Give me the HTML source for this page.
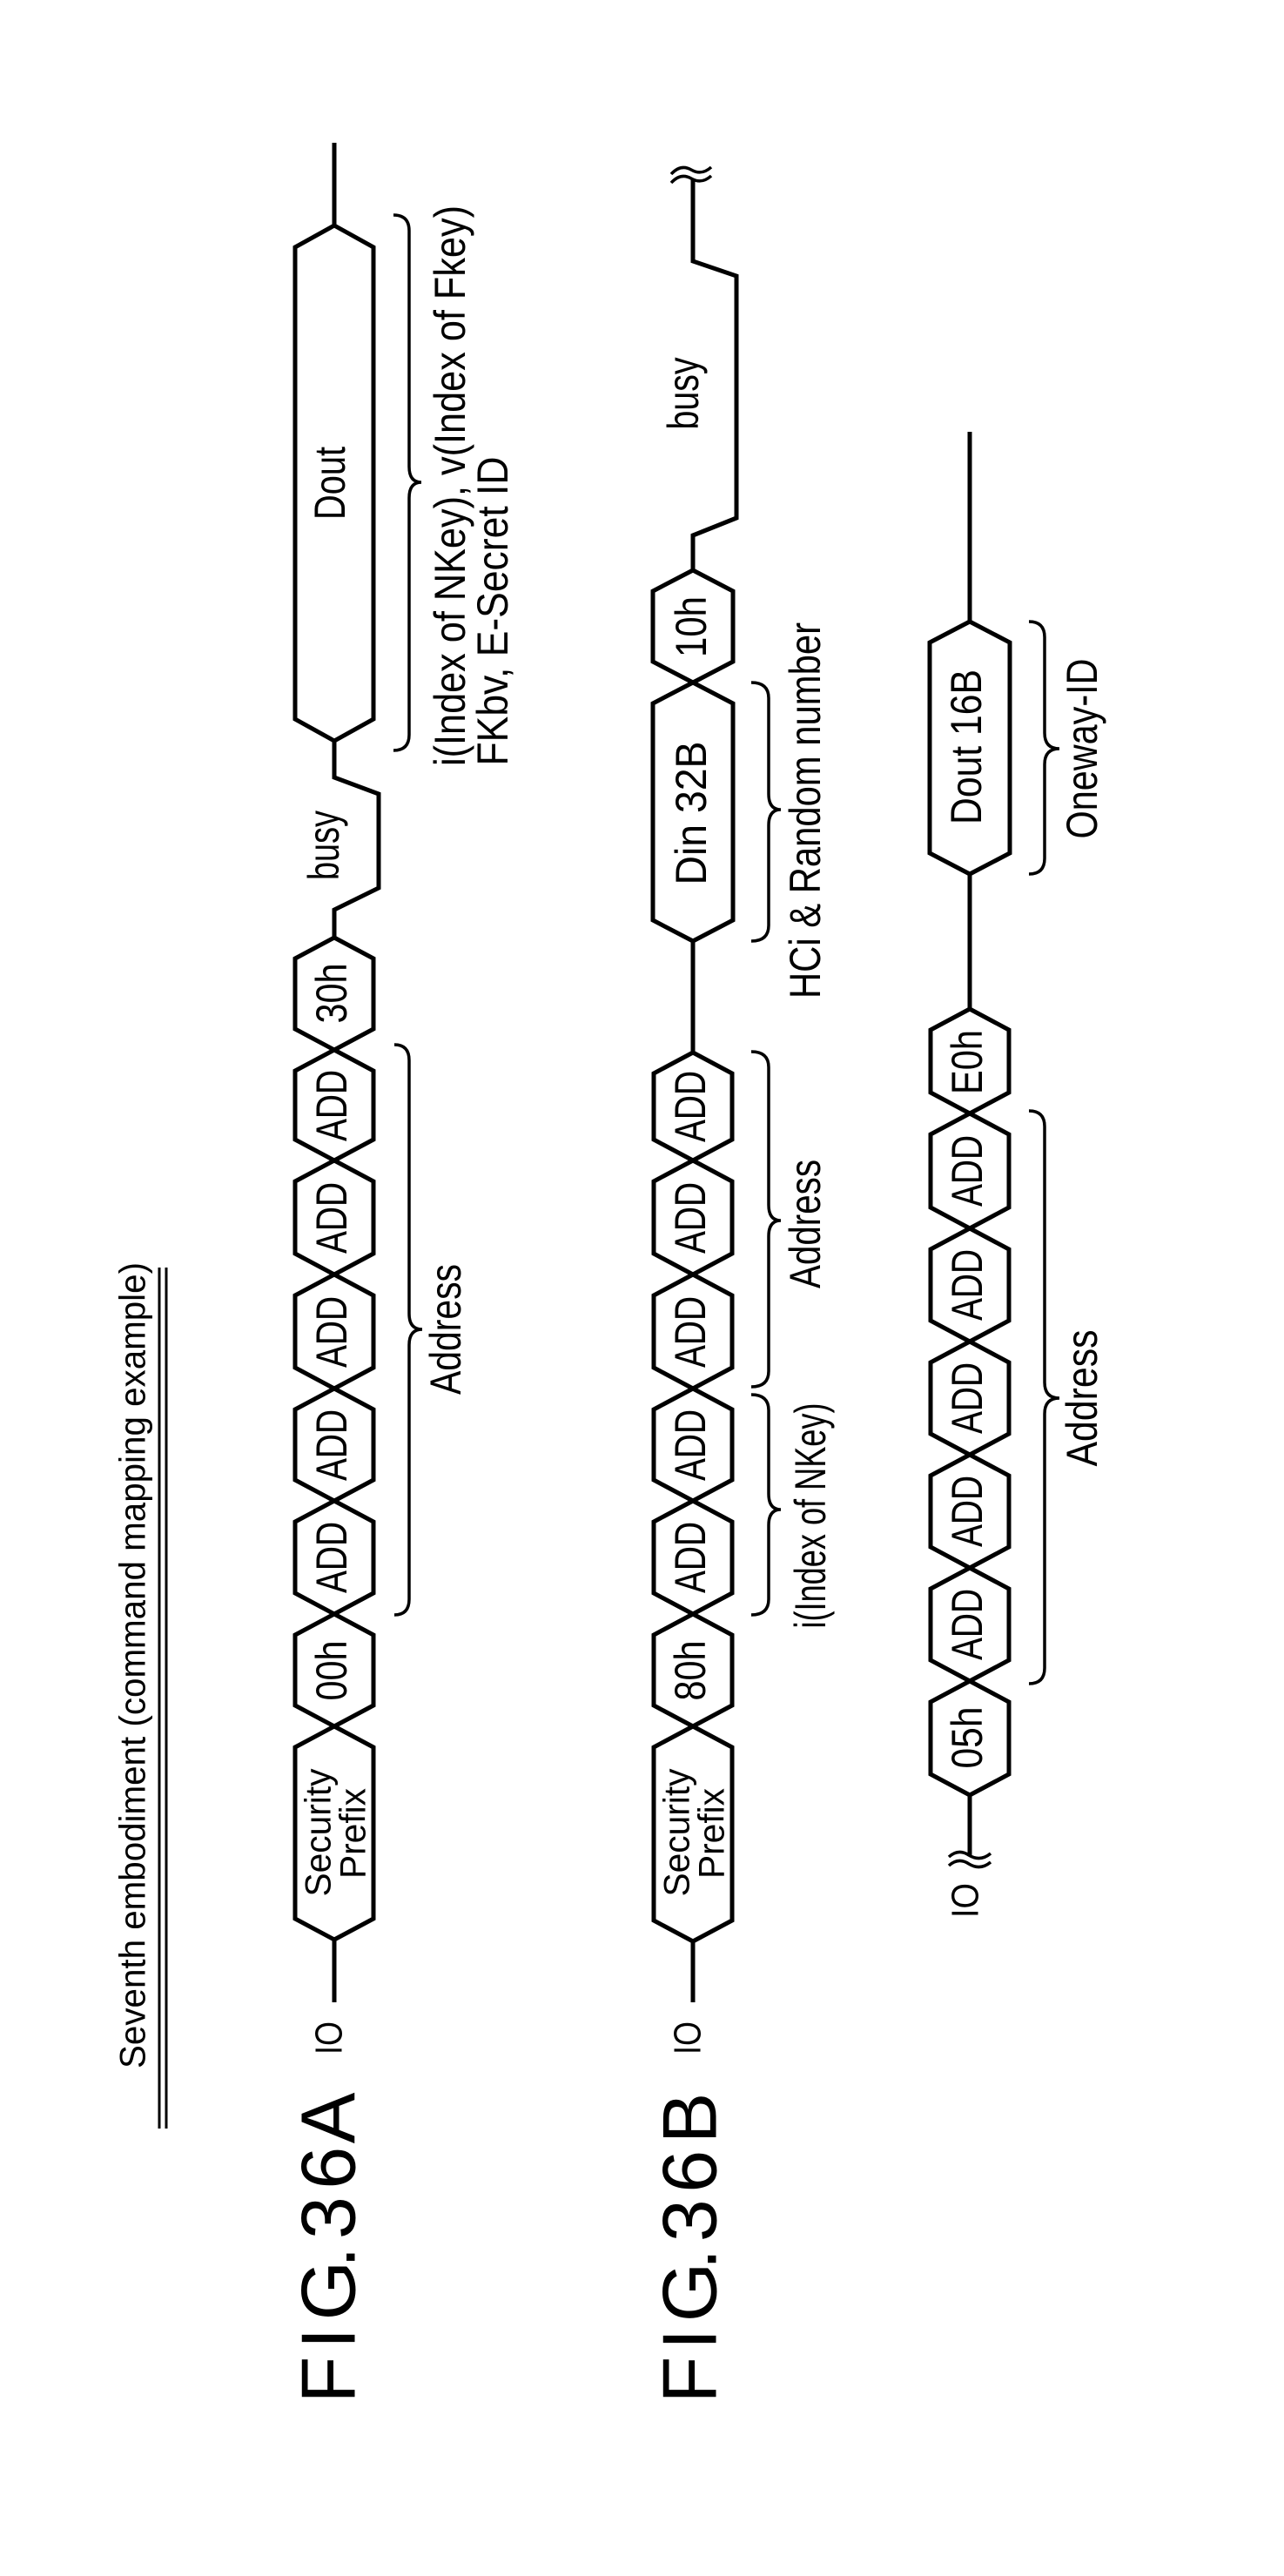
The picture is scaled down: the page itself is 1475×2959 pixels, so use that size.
<!DOCTYPE html>
<html><head><meta charset="utf-8">
<style>
html,body{margin:0;padding:0;background:#fff;}
svg{display:block;}
text{font-family:"Liberation Sans",sans-serif;fill:#000;}
</style></head>
<body>
<svg xmlns="http://www.w3.org/2000/svg" width="1475" height="2959" viewBox="0 0 1475 2959">
<g fill="none" stroke="#000" stroke-width="5" stroke-linejoin="miter">
<!-- ROW A (cx=384) -->
<polyline points="384,164 384,259"/>
<polygon points="384,259 429,284 429,826 384,851 339,826 339,284"/>
<polyline points="384,851 384,893 435,912 435,1020 384,1045 384,1077"/>
<polygon points="384,1077 429,1101 429,1182 384,1206 339,1182 339,1101"/>
<polygon points="384,1206 429,1230 429,1309 384,1333 339,1309 339,1230"/>
<polygon points="384,1333 429,1357 429,1440 384,1464 339,1440 339,1357"/>
<polygon points="384,1464 429,1488 429,1571 384,1595 339,1571 339,1488"/>
<polygon points="384,1595 429,1619 429,1700 384,1724 339,1700 339,1619"/>
<polygon points="384,1724 429,1748 429,1830 384,1854 339,1830 339,1748"/>
<polygon points="384,1854 429,1878 429,1959 384,1983 339,1959 339,1878"/>
<polygon points="384,1983 429,2007 429,2204 384,2228 339,2204 339,2007"/>
<polyline points="384,2228 384,2300"/>
<!-- braces A -->
<path d="M452,247 Q470,247 470,265 L470,536 Q470,554 484,554 Q470,554 470,572 L470,844 Q470,862 452,862" stroke-width="3.5"/>
<path d="M453,1200 Q470,1200 470,1218 L470,1509 Q470,1527 485,1527 Q470,1527 470,1545 L470,1837 Q470,1855 453,1855" stroke-width="3.5"/>

<!-- ROW B (cx=796) -->
<polyline points="796,205 796,300 846,317 846,595 796,615 796,655"/>
<polygon points="796,655 842,679 842,760 796,784 750,760 750,679"/>
<polygon points="796,784 842,808 842,1057 796,1081 750,1057 750,808"/>
<polyline points="796,1081 796,1209"/>
<polygon points="796,1209 841,1233 841,1309 796,1333 751,1309 751,1233"/>
<polygon points="796,1333 841,1357 841,1440 796,1464 751,1440 751,1357"/>
<polygon points="796,1464 841,1488 841,1571 796,1595 751,1571 751,1488"/>
<polygon points="796,1595 841,1619 841,1700 796,1724 751,1700 751,1619"/>
<polygon points="796,1724 841,1748 841,1830 796,1854 751,1830 751,1748"/>
<polygon points="796,1854 841,1878 841,1959 796,1983 751,1959 751,1878"/>
<polygon points="796,1983 841,2007 841,2206 796,2230 751,2206 751,2007"/>
<polyline points="796,2230 796,2300"/>
<path d="M771,200 Q782,188 794,195 Q806,202 817,192" stroke-width="3.5"/>
<path d="M771,210 Q782,198 794,205 Q806,212 817,202" stroke-width="3.5"/>
<!-- braces B -->
<path d="M863,784 Q883,784 883,802 L883,912 Q883,930 897,930 Q883,930 883,948 L883,1063 Q883,1081 863,1081" stroke-width="3.5"/>
<path d="M863,1208 Q883,1208 883,1226 L883,1384 Q883,1402 897,1402 Q883,1402 883,1420 L883,1575 Q883,1593 863,1593" stroke-width="3.5"/>
<path d="M863,1602 Q883,1602 883,1620 L883,1716 Q883,1734 897,1734 Q883,1734 883,1752 L883,1837 Q883,1855 863,1855" stroke-width="3.5"/>

<!-- ROW C (cx=1114) -->
<polyline points="1114,496 1114,714"/>
<polygon points="1114,714 1160,738 1160,980 1114,1004 1068,980 1068,738"/>
<polyline points="1114,1004 1114,1159"/>
<polygon points="1114,1159 1159,1183 1159,1255 1114,1279 1069,1255 1069,1183"/>
<polygon points="1114,1279 1159,1303 1159,1387 1114,1411 1069,1387 1069,1303"/>
<polygon points="1114,1411 1159,1435 1159,1517 1114,1541 1069,1517 1069,1435"/>
<polygon points="1114,1541 1159,1565 1159,1647 1114,1671 1069,1647 1069,1565"/>
<polygon points="1114,1671 1159,1695 1159,1777 1114,1801 1069,1777 1069,1695"/>
<polygon points="1114,1801 1159,1825 1159,1907 1114,1931 1069,1907 1069,1825"/>
<polygon points="1114,1931 1159,1955 1159,2038 1114,2062 1069,2038 1069,1955"/>
<polyline points="1114,2062 1114,2132"/>
<path d="M1090,2133 Q1101,2123 1113,2131 Q1126,2139 1138,2129" stroke-width="3.5"/>
<path d="M1090,2143 Q1101,2133 1113,2141 Q1126,2149 1138,2139" stroke-width="3.5"/>
<!-- braces C -->
<path d="M1182,714 Q1200,714 1200,732 L1200,842 Q1200,860 1217,860 Q1200,860 1200,878 L1200,986 Q1200,1004 1182,1004" stroke-width="3.5"/>
<path d="M1182,1276 Q1200,1276 1200,1294 L1200,1588 Q1200,1606 1217,1606 Q1200,1606 1200,1624 L1200,1916 Q1200,1934 1182,1934" stroke-width="3.5"/>

<!-- title underline -->
<line x1="183" y1="1456" x2="183" y2="2445" stroke-width="3"/>
<line x1="191" y1="1456" x2="191" y2="2445" stroke-width="3"/>
</g>

<g font-size="50" text-anchor="middle" dominant-baseline="central">
<!-- title & figure labels -->
<text transform="translate(152,1913) rotate(-90)" font-size="42" textLength="926" lengthAdjust="spacingAndGlyphs">Seventh embodiment (command mapping example)</text>
<text transform="translate(377,2582) rotate(-90)" font-size="88" textLength="357" lengthAdjust="spacing">F I G. 3 6 A</text>
<text transform="translate(792,2582) rotate(-90)" font-size="88" textLength="357" lengthAdjust="spacing">F I G. 3 6 B</text>

<!-- row A labels -->
<text transform="translate(378,2341) rotate(-90)" font-size="44" textLength="38" lengthAdjust="spacingAndGlyphs">IO</text>
<text transform="translate(365,2105) rotate(-90)" font-size="42" textLength="147" lengthAdjust="spacingAndGlyphs">Security</text>
<text transform="translate(405,2106) rotate(-90)" font-size="42" textLength="104" lengthAdjust="spacingAndGlyphs">Prefix</text>
<text transform="translate(381,1919) rotate(-90)" textLength="69" lengthAdjust="spacingAndGlyphs">00h</text>
<text transform="translate(381,1789) rotate(-90)" textLength="82" lengthAdjust="spacingAndGlyphs">ADD</text>
<text transform="translate(381,1660) rotate(-90)" textLength="82" lengthAdjust="spacingAndGlyphs">ADD</text>
<text transform="translate(381,1530) rotate(-90)" textLength="82" lengthAdjust="spacingAndGlyphs">ADD</text>
<text transform="translate(381,1399) rotate(-90)" textLength="82" lengthAdjust="spacingAndGlyphs">ADD</text>
<text transform="translate(381,1270) rotate(-90)" textLength="82" lengthAdjust="spacingAndGlyphs">ADD</text>
<text transform="translate(381,1141) rotate(-90)" textLength="69" lengthAdjust="spacingAndGlyphs">30h</text>
<text transform="translate(372,971) rotate(-90)" textLength="80" lengthAdjust="spacingAndGlyphs">busy</text>
<text transform="translate(379,555) rotate(-90)" textLength="84" lengthAdjust="spacingAndGlyphs">Dout</text>
<text transform="translate(512,1527) rotate(-90)" textLength="150" lengthAdjust="spacingAndGlyphs">Address</text>
<text transform="translate(517,558) rotate(-90)" textLength="644" lengthAdjust="spacingAndGlyphs">i(Index of NKey),  v(Index of Fkey)</text>
<text transform="translate(566,702) rotate(-90)" textLength="355" lengthAdjust="spacingAndGlyphs">FKbv, E-Secret ID</text>

<!-- row B labels -->
<text transform="translate(790,2341) rotate(-90)" font-size="44" textLength="38" lengthAdjust="spacingAndGlyphs">IO</text>
<text transform="translate(777,2105) rotate(-90)" font-size="42" textLength="147" lengthAdjust="spacingAndGlyphs">Security</text>
<text transform="translate(817,2106) rotate(-90)" font-size="42" textLength="104" lengthAdjust="spacingAndGlyphs">Prefix</text>
<text transform="translate(793,1919) rotate(-90)" textLength="69" lengthAdjust="spacingAndGlyphs">80h</text>
<text transform="translate(793,1789) rotate(-90)" textLength="82" lengthAdjust="spacingAndGlyphs">ADD</text>
<text transform="translate(793,1660) rotate(-90)" textLength="82" lengthAdjust="spacingAndGlyphs">ADD</text>
<text transform="translate(793,1530) rotate(-90)" textLength="82" lengthAdjust="spacingAndGlyphs">ADD</text>
<text transform="translate(793,1399) rotate(-90)" textLength="82" lengthAdjust="spacingAndGlyphs">ADD</text>
<text transform="translate(793,1271) rotate(-90)" textLength="82" lengthAdjust="spacingAndGlyphs">ADD</text>
<text transform="translate(794,934) rotate(-90)" textLength="165" lengthAdjust="spacingAndGlyphs">Din 32B</text>
<text transform="translate(794,720) rotate(-90)" textLength="70" lengthAdjust="spacingAndGlyphs">10h</text>
<text transform="translate(785,452) rotate(-90)" textLength="83" lengthAdjust="spacingAndGlyphs">busy</text>
<text transform="translate(925,931) rotate(-90)" textLength="432" lengthAdjust="spacingAndGlyphs">HCi &amp; Random number</text>
<text transform="translate(925,1406) rotate(-90)" textLength="148" lengthAdjust="spacingAndGlyphs">Address</text>
<text transform="translate(931,1741) rotate(-90)" textLength="259" lengthAdjust="spacingAndGlyphs">i(Index of NKey)</text>

<!-- row C labels -->
<text transform="translate(1109,2183) rotate(-90)" font-size="44" textLength="40" lengthAdjust="spacingAndGlyphs">IO</text>
<text transform="translate(1111,1996) rotate(-90)" textLength="71" lengthAdjust="spacingAndGlyphs">05h</text>
<text transform="translate(1111,1866) rotate(-90)" textLength="82" lengthAdjust="spacingAndGlyphs">ADD</text>
<text transform="translate(1111,1736) rotate(-90)" textLength="82" lengthAdjust="spacingAndGlyphs">ADD</text>
<text transform="translate(1111,1606) rotate(-90)" textLength="82" lengthAdjust="spacingAndGlyphs">ADD</text>
<text transform="translate(1111,1476) rotate(-90)" textLength="82" lengthAdjust="spacingAndGlyphs">ADD</text>
<text transform="translate(1111,1345) rotate(-90)" textLength="82" lengthAdjust="spacingAndGlyphs">ADD</text>
<text transform="translate(1111,1220) rotate(-90)" textLength="74" lengthAdjust="spacingAndGlyphs">E0h</text>
<text transform="translate(1110,858) rotate(-90)" textLength="178" lengthAdjust="spacingAndGlyphs">Dout 16B</text>
<text transform="translate(1243,1606) rotate(-90)" textLength="157" lengthAdjust="spacingAndGlyphs">Address</text>
<text transform="translate(1243,860) rotate(-90)" textLength="207" lengthAdjust="spacingAndGlyphs">Oneway-ID</text>
</g>
</svg>
</body></html>
